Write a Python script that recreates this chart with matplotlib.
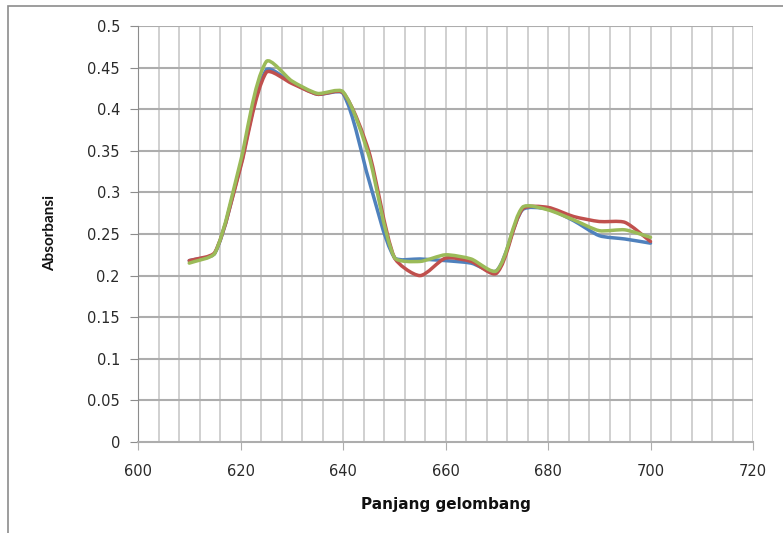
import matplotlib
matplotlib.use("Agg")
import numpy as np
import matplotlib.pyplot as plt
from matplotlib.path import Path
from matplotlib.patches import PathPatch, Rectangle

# data (every 5 nm)
wavelength = [610, 615, 620, 625, 630, 635, 640, 645, 650, 655,
              660, 665, 670, 675, 680, 685, 690, 695, 700]
absorb_blue = [0.218, 0.227, 0.332, 0.447, 0.432, 0.418, 0.419, 0.316, 0.222, 0.220,
               0.218, 0.215, 0.206, 0.279, 0.280, 0.266, 0.248, 0.244, 0.239]
absorb_red = [0.218, 0.228, 0.330, 0.444, 0.431, 0.418, 0.420, 0.350, 0.222, 0.200,
              0.221, 0.217, 0.203, 0.280, 0.282, 0.271, 0.265, 0.264, 0.241]
absorb_green = [0.215, 0.227, 0.337, 0.457, 0.434, 0.419, 0.421, 0.345, 0.222, 0.217,
                0.225, 0.220, 0.206, 0.282, 0.279, 0.267, 0.254, 0.255, 0.246]

y_ticks = [0, 0.05, 0.1, 0.15, 0.2, 0.25, 0.3, 0.35, 0.4, 0.45, 0.5]
y_labels = ["0", "0.05", "0.1", "0.15", "0.2", "0.25", "0.3", "0.35", "0.4", "0.45", "0.5"]
x_ticks = [600, 620, 640, 660, 680, 700, 720]

colors = ["#4F81BD", "#C0504D", "#9BBB59"]

TICK_FONT = ["DejaVu Sans"]
W, H = 783, 533
X0, X1, Y0, Y1 = 138, 753, 442, 26   # plot area in pixels


def smooth_path(xs, ys, sx, sy, s=0.22):
    # excel-like smoothed line: bezier handles along the neighbour chord,
    # handle length scaled by the segment length (worked out in pixels)
    p = np.column_stack([np.asarray(xs) * sx, np.asarray(ys) * sy])
    n = len(p)
    tang = []
    for i in range(n):
        d = p[min(i + 1, n - 1)] - p[max(i - 1, 0)]
        tang.append(d / np.hypot(*d))
    verts = [tuple(p[0])]
    codes = [Path.MOVETO]
    for i in range(n - 1):
        L = np.hypot(*(p[i + 1] - p[i]))
        c1 = p[i] + tang[i] * L * s
        c2 = p[i + 1] - tang[i + 1] * L * s
        verts += [tuple(c1), tuple(c2), tuple(p[i + 1])]
        codes += [Path.CURVE4] * 3
    verts = [(vx / sx, vy / sy) for vx, vy in verts]
    return Path(verts, codes)


fig = plt.figure(figsize=(W / 100, H / 100), dpi=100)
ax = fig.add_axes([X0 / W, (H - Y0) / H, (X1 - X0) / W, (Y0 - Y1) / H])

# outer chart frame (cut off on right and bottom)
fig.patches.append(Rectangle((8 / W, -0.1), 1.2, (H - 6) / H + 0.1,
                             transform=fig.transFigure, fill=False,
                             edgecolor="#8c8c8c", linewidth=1.2))

ax.set_xlim(600, 720)
ax.set_ylim(0, 0.5)

# grid
for x in range(604, 721, 4):
    ax.axvline(x, color="#c4c4c4", linewidth=1.1, zorder=0)
for y in y_ticks[1:]:
    ax.axhline(y, color="#adadad", linewidth=1.5, zorder=0)

px_per_x = (X1 - X0) / 120
px_per_y = (Y0 - Y1) / 0.5
for ys, c in zip([absorb_blue, absorb_red, absorb_green], colors):
    ax.add_patch(PathPatch(smooth_path(wavelength, ys, px_per_x, px_per_y), fill=False,
                           edgecolor=c, linewidth=2.5, capstyle="round",
                           joinstyle="round", zorder=3))

for s in ["top", "right"]:
    ax.spines[s].set_visible(False)
ax.spines["left"].set_color("#8c8c8c")
ax.spines["bottom"].set_color("#adadad")
ax.spines["bottom"].set_linewidth(1.5)

ax.set_yticks(y_ticks)
ax.set_yticklabels(y_labels, fontfamily=TICK_FONT, fontsize=10.5, color="#2a2a2a")
ax.set_xticks(x_ticks)
ax.set_xticklabels([str(v) for v in x_ticks], fontfamily=TICK_FONT, fontsize=10.5, color="#2a2a2a")
ax.tick_params(axis="y", length=6, color="#8c8c8c", pad=7)
ax.tick_params(axis="x", length=6, color="#adadad", pad=10)

fig.text(446 / W, 1 - 505 / H, "Panjang gelombang", ha="center", va="center",
         fontfamily=["DejaVu Sans"], fontsize=11, fontweight="bold", color="#111111")
fig.text(50 / W, 1 - 233 / H, "Absorbansi", ha="center", va="center",
         rotation=90, fontfamily=["Lato", "DejaVu Sans"], fontsize=11, fontweight="bold",
         color="#111111")

fig.savefig("out.png", dpi=100, facecolor="white")
